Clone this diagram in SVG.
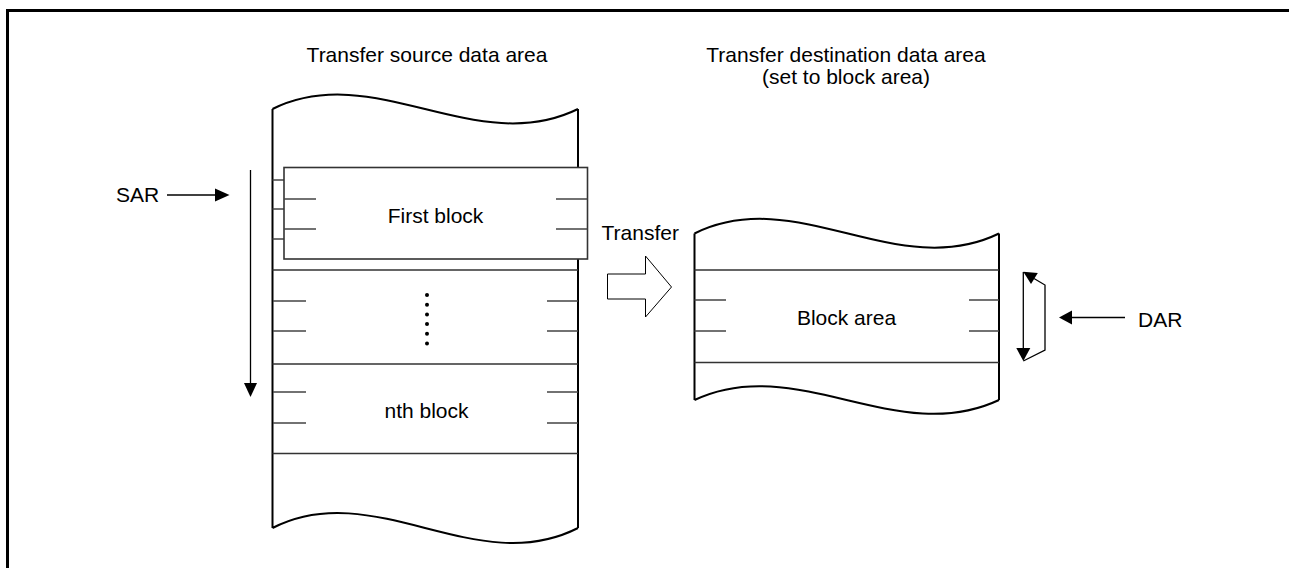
<svg xmlns="http://www.w3.org/2000/svg" width="1289" height="568" viewBox="0 0 1289 568">
<style>
text{font-family:"Liberation Sans",Arial,sans-serif;font-size:21px;fill:#000}
.c{text-anchor:middle}
.out{fill:none;stroke:#000;stroke-width:2}
.div{fill:none;stroke:#333;stroke-width:1.6}
.tick{fill:none;stroke:#444;stroke-width:1.3}
.ln{fill:none;stroke:#000;stroke-width:1.3}
.head{fill:#000;stroke:none}
</style>
<rect width="1289" height="568" fill="#fff"/>
<path d="M7.5,568 V10.5 H1289" fill="none" stroke="#000" stroke-width="3"/>

<text class="c" x="427" y="62">Transfer source data area</text>
<text class="c" x="846" y="62">Transfer destination data area</text>
<text class="c" x="846" y="84">(set to block area)</text>

<g id="source-area">
<path class="out" d="M272.5,109 C374,59 476,159 578,109 M272.5,109 V528 M578,109 V528 M272.5,528 C374,476 476,580 578,528"/>
<path class="tick" d="M272.5,180 H284 M272.5,209 H284 M272.5,239 H284"/>
<path class="div" d="M272.5,270 H578 M272.5,364 H578 M272.5,453.5 H578"/>
<path class="tick" d="M273,301 H306 M273,331 H306 M547,301 H578 M547,331 H578"/>
<path class="tick" d="M273,392 H306 M273,423 H306 M547,392 H578 M547,423 H578"/>
<g fill="#000">
<circle cx="427" cy="295" r="2"/><circle cx="427" cy="304.7" r="2"/><circle cx="427" cy="314.4" r="2"/>
<circle cx="427" cy="324" r="2"/><circle cx="427" cy="333.7" r="2"/><circle cx="427" cy="343.4" r="2"/>
</g>
<text class="c" x="426.5" y="418">nth block</text>
</g>

<g id="first-block">
<rect x="284" y="167.5" width="303.5" height="91.5" fill="#fff" stroke="#333" stroke-width="1.6"/>
<path class="tick" d="M284,199 H316 M284,229 H316 M556,199 H587.5 M556,229 H587.5"/>
<text class="c" x="435.5" y="223">First block</text>
</g>

<g id="dest-area">
<path class="out" d="M694.5,233.5 C796,183 897,283 999,233.5 M694.5,233.5 V400 M999,233.5 V400 M694.5,400 C796,352 897,448 999,400"/>
<path class="div" d="M694.5,270 H999 M694.5,362.5 H999"/>
<path class="tick" d="M694.5,300 H726 M694.5,331 H726 M969,300 H999 M969,331 H999"/>
<text class="c" x="846.5" y="325">Block area</text>
</g>

<g id="transfer-arrow">
<polygon points="607.5,274 645.5,274 645.5,256 671.5,287 645.5,317 645.5,299 607.5,299" fill="#fff" stroke="#000" stroke-width="1"/>
<text x="601.5" y="240">Transfer</text>
</g>

<g id="connectors">
<g id="sar">
<text x="116" y="202">SAR</text>
<path class="ln" d="M167,195 H216"/>
<polygon class="head" points="229.5,195 215,188.5 215,201.5"/>
<path class="ln" d="M250.5,170 V384"/>
<polygon class="head" points="250.5,397 244,383 257,383"/>
</g>
<g id="dar">
<text x="1138" y="327">DAR</text>
<path class="ln" d="M1125,317.5 H1071"/>
<polygon class="head" points="1059,317.5 1072,310.5 1072,324.5"/>
<path class="ln" d="M1023.3,272 V349"/>
<polygon class="head" points="1023.3,361 1016.3,348 1030.3,348"/>
<path class="ln" d="M1023.3,361 L1045,350 V285 L1034,278.5"/>
<polygon class="head" points="1023.3,271.7 1037.8,273 1031,284"/>
</g>
</g>
</svg>
